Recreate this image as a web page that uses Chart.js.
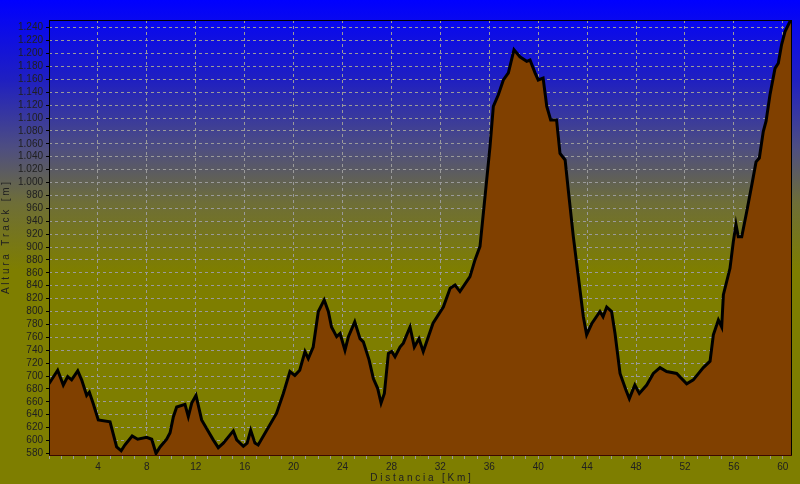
<!DOCTYPE html>
<html>
<head>
<meta charset="utf-8">
<script src="https://cdn.jsdelivr.net/npm/chart.js@4/dist/chart.umd.min.js"></script>
<style>
  html, body { margin: 0; padding: 0; background: #808000; }
  #wrap { width: 800px; height: 484px; }
</style>
</head>
<body>
<div id="wrap"><canvas id="profileChart" width="800" height="484"></canvas></div>
<script>
// distance along the track (km) and altitude (m)
const distKm = [0, 0.71, 1.17, 1.53, 1.85, 2.35, 2.67, 3.08, 3.3, 3.62, 4.03, 4.99, 5.1, 5.53, 5.9, 6.2, 6.8, 7.25, 7.98, 8.4,
  8.75, 9.08, 9.62, 9.9, 10.17, 10.44, 11.12, 11.39, 11.67, 12.02, 12.48, 13.03, 13.43, 13.84, 14.25, 15.07, 15.35, 15.89, 16.2, 16.49,
  16.84, 17.1, 17.8, 18.6, 19.16, 19.7, 20.1, 20.5, 20.93, 21.2, 21.6, 22.02, 22.5, 22.84, 23.1, 23.52, 23.8, 24.2, 24.48, 25.0,
  25.43, 25.7, 26.17, 26.52, 26.87, 27.15, 27.42, 27.75, 28.02, 28.29, 28.7, 28.97, 29.52, 29.87, 30.25, 30.6, 31.4, 32.24, 32.8, 33.2,
  33.6, 34.42, 34.83, 35.24, 35.65, 36.06, 36.33, 36.74, 37.15, 37.56, 38.02, 38.5, 39.06, 39.33, 39.74, 40.0, 40.4, 40.7, 41.02, 41.5,
  41.78, 42.2, 42.46, 42.87, 43.28, 43.69, 43.96, 44.37, 45.05, 45.3, 45.6, 46.0, 46.28, 46.69, 47.18, 47.45, 47.9, 48.27, 48.87, 49.41,
  49.96, 50.5, 51.32, 52.14, 52.68, 53.5, 54.05, 54.32, 54.73, 55.0, 55.14, 55.68, 55.95, 56.17, 56.36, 56.64, 57.05, 57.46, 57.81, 58.08,
  58.4, 58.63, 58.95, 59.36, 59.63, 59.9, 60.18, 60.59, 60.75];
const altitudeM = [688, 709, 686, 699, 694, 708, 694, 670, 675, 657, 632, 629, 621, 590, 584, 593, 607, 602, 605, 602,
  580, 590, 602, 612, 637, 652, 656, 637, 658, 670, 632, 614, 601, 589, 596, 615, 601, 591, 596, 616,
  596, 593, 616, 642, 673, 707, 701, 709, 738, 727, 745, 800, 818, 800, 776, 761, 766, 740, 761, 784,
  758, 753, 725, 696, 681, 658, 673, 735, 738, 730, 745, 751, 776, 745, 758, 738, 782, 807, 836, 841,
  831, 854, 880, 901, 978, 1056, 1118, 1136, 1159, 1170, 1206, 1195, 1188, 1190, 1170, 1159, 1162, 1118, 1097, 1097,
  1045, 1035, 988, 916, 854, 792, 764, 781, 800, 792, 807, 800, 766, 704, 678, 665, 686, 673, 686, 704,
  713, 707, 704, 688, 694, 713, 723, 764, 787, 776, 826, 867, 908, 935, 916, 916, 955, 996, 1032, 1038,
  1079, 1095, 1136, 1177, 1185, 1214, 1234, 1250, 1252];

const xTickKm = [0, 1, 2, 3, 4, 5, 6, 7, 8, 9, 10, 11, 12, 13, 14, 15, 16, 17, 18, 19, 20, 21, 22, 23, 24, 25, 26, 27, 28, 29, 30,
  31, 32, 33, 34, 35, 36, 37, 38, 39, 40, 41, 42, 43, 44, 45, 46, 47, 48, 49, 50, 51, 52, 53, 54, 55, 56, 57, 58, 59, 60];
const yTickM = [580, 600, 620, 640, 660, 680, 700, 720, 740, 760, 780, 800, 820, 840, 860, 880, 900, 920, 940, 960, 980,
  1000, 1020, 1040, 1060, 1080, 1100, 1120, 1140, 1160, 1180, 1200, 1220, 1240];

const points = distKm.map((d, i) => ({ x: d, y: altitudeM[i] }));

const skyBackground = {
  id: 'skyBackground',
  beforeDraw(chart) {
    const ctx = chart.ctx;
    const g = ctx.createLinearGradient(0, 0, 0, 270);
    g.addColorStop(0, '#0000ff');
    g.addColorStop(0.3, '#2020c0');
    g.addColorStop(0.55, '#4e4e80');
    g.addColorStop(0.75, '#6e6e38');
    g.addColorStop(1, '#7e7e00');
    ctx.save();
    ctx.fillStyle = g;
    ctx.fillRect(0, 0, chart.width, chart.height);
    ctx.restore();
  }
};

const frameLines = {
  id: 'frameLines',
  afterDatasetsDraw(chart) {
    const { left, top, right, bottom } = chart.chartArea;
    const ctx = chart.ctx;
    ctx.save();
    ctx.strokeStyle = '#000';
    ctx.lineWidth = 1;
    ctx.setLineDash([]);
    ctx.beginPath();
    ctx.moveTo(left, top + 0.5);
    ctx.lineTo(right, top + 0.5);
    ctx.moveTo(right - 0.5, top);
    ctx.lineTo(right - 0.5, bottom);
    ctx.moveTo(left + 0.5, top);
    ctx.lineTo(left + 0.5, bottom);
    ctx.stroke();
    ctx.strokeStyle = '#3a0800';
    ctx.beginPath();
    ctx.moveTo(left, bottom - 0.5);
    ctx.lineTo(right, bottom - 0.5);
    ctx.stroke();
    ctx.restore();
  }
};

new Chart(document.getElementById('profileChart'), {
  type: 'line',
  data: {
    datasets: [{
      data: points,
      borderColor: '#000000',
      borderWidth: 3,
      backgroundColor: '#804000',
      fill: 'start',
      pointRadius: 0,
      tension: 0
    }]
  },
  options: {
    responsive: false,
    animation: false,
    layout: { padding: { top: 20, right: 8, left: 0, bottom: 0 } },
    plugins: { legend: { display: false }, tooltip: { enabled: false } },
    scales: {
      x: {
        type: 'linear',
        min: 0,
        max: 60.75,
        afterBuildTicks: axis => { axis.ticks = xTickKm.map(v => ({ value: v })); },
        afterFit: axis => { axis.height = 28; },
        ticks: {
          autoSkip: false,
          maxRotation: 0,
          padding: 2,
          color: '#202020',
          font: { family: 'Liberation Sans', size: 10 },
          callback: v => (v > 0 && v % 4 === 0) ? String(v) : ''
        },
        grid: {
          color: c => (c.tick && c.tick.value > 0 && c.tick.value % 4 === 0) ? '#9a9a9a' : 'rgba(0,0,0,0)',
          tickColor: '#9a9a9a',
          tickBorderDash: [],
          tickLength: 3
        },
        border: { display: false, dash: [3, 3] },
        title: {
          display: true,
          text: 'D i s t a n c i a   [ K m ]',
          color: '#202020',
          font: { family: 'Liberation Sans', size: 10 },
          padding: 0
        }
      },
      y: {
        min: 576,
        max: 1252,
        afterBuildTicks: axis => { axis.ticks = yTickM.map(v => ({ value: v })); },
        afterFit: axis => { axis.width = 49; },
        ticks: {
          autoSkip: false,
          padding: 3,
          color: '#202020',
          font: { family: 'Liberation Sans', size: 10 },
          callback: v => v >= 1000 ? Math.floor(v / 1000) + '.' + String(v % 1000).padStart(3, '0') : String(v)
        },
        grid: {
          color: '#9a9a9a',
          tickColor: '#000000',
          tickBorderDash: [],
          tickLength: 3
        },
        border: { display: false, dash: [3, 3] },
        title: {
          display: true,
          text: 'A l t u r a   T r a c k   [ m ]',
          color: '#202020',
          font: { family: 'Liberation Sans', size: 10 },
          padding: 0
        }
      }
    }
  },
  plugins: [skyBackground, frameLines]
});
</script>
</body>
</html>
